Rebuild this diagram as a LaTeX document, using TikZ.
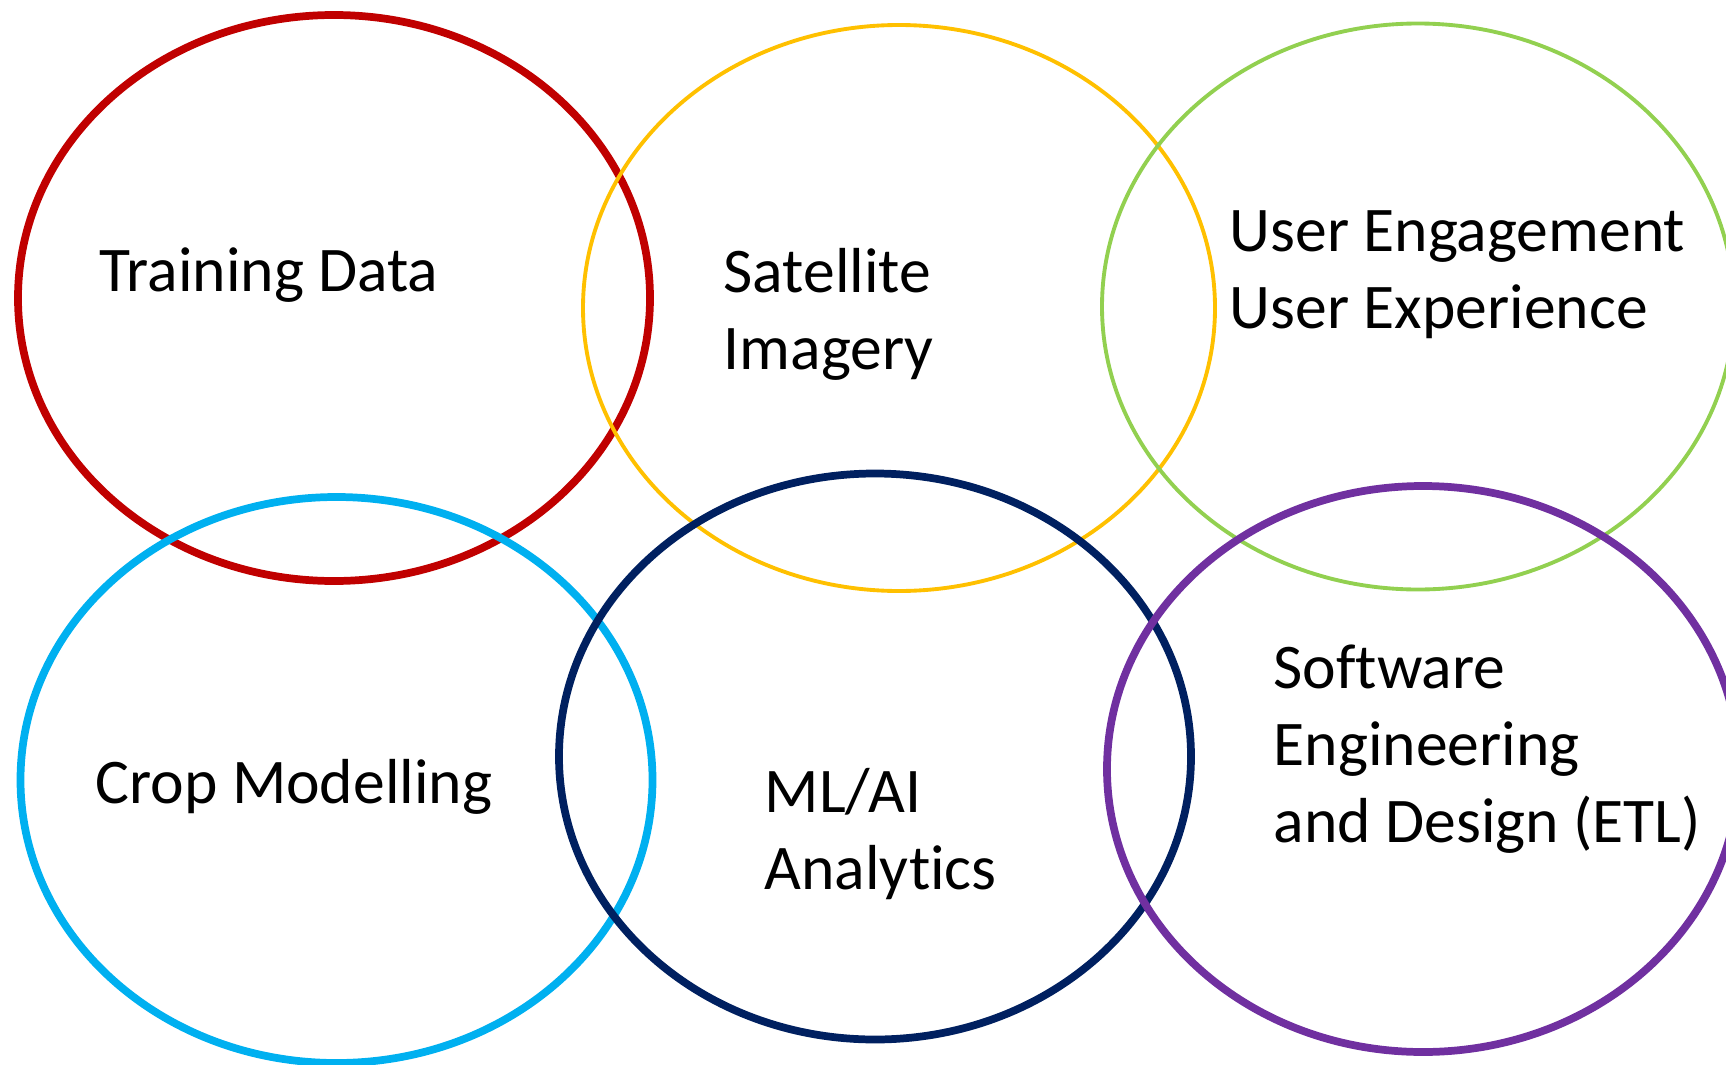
\documentclass[tikz,border=0pt]{standalone}
\usepackage{fontspec}
\setmainfont{Carlito}[Ligatures=NoCommon]
\usepackage{xcolor}
\usepackage{tikz}
\definecolor{ringred}{HTML}{C00000}
\definecolor{ringyellow}{HTML}{FFC000}
\definecolor{ringgreen}{HTML}{92D050}
\definecolor{ringcyan}{HTML}{00B0F0}
\definecolor{ringnavy}{HTML}{002060}
\definecolor{ringpurple}{HTML}{7030A0}
\tikzset{
    ring/.style={line width=#1},
    topic/.style={anchor=base west, inner sep=0pt, align=left,
        font=\fontsize{18.1}{21.9}\selectfont},
}

\begin{document}
\begin{tikzpicture}
        \path[use as bounding box, clip] (0,0) rectangle (17.26,10.64);
        % top row, then bottom row
        \foreach \col/\cx/\cy/\lw in {ringred/3.34/7.66/2.2pt, ringyellow/8.99/7.56/1.1pt,
                ringgreen/14.18/7.575/1.1pt, ringcyan/3.365/2.84/2.2pt,
                ringnavy/8.75/3.075/2.2pt, ringpurple/14.23/2.95/2.2pt}
            \draw[ring=\lw, \col] (\cx,\cy) ellipse [x radius=3.16, y radius=2.83];
        % multi-line labels sit on the baseline of their last line
        \node[topic] (training) at (0.99,7.73) {Training Data};
        \node[topic] (satellite) at (7.23,6.95) {Satellite\\Imagery};
        \node[topic] (user) at (12.29,7.36) {User Engagement\\User Experience};
        \node[topic] (crop) at (0.95,2.61) {Crop Modelling};
        \node[topic] (mlai) at (7.64,1.75) {ML/AI\\Analytics};
        \node[topic] (software) at (12.73,2.22) {Software\\Engineering\\and Design (ETL)};
    \end{tikzpicture}
\end{document}
